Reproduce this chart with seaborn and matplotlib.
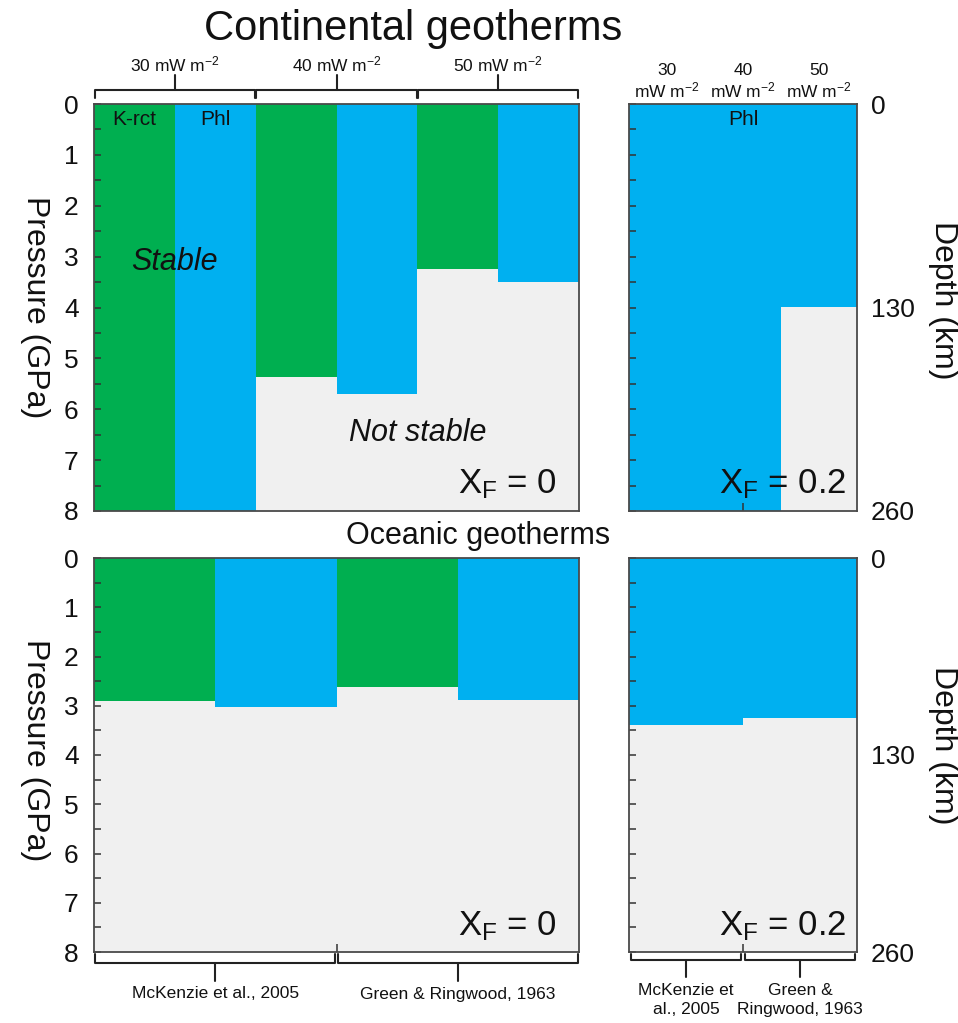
import numpy as np
import pandas as pd
import matplotlib
matplotlib.use("Agg")
import matplotlib.pyplot as plt
import matplotlib.transforms as mtransforms
import seaborn as sns

sns.set_theme(style="white")
plt.rcParams["font.family"] = ["Liberation Sans", "DejaVu Sans"]
plt.rcParams["mathtext.fontset"] = "custom"
plt.rcParams["mathtext.rm"] = "Liberation Sans"
plt.rcParams["mathtext.it"] = "Liberation Sans:italic"
plt.rcParams["mathtext.bf"] = "Liberation Sans:bold"

# ---------------- data (stability limit, GPa; columns stable from 0 down to limit) ----------------
cont_cats = ["30 K-rct", "30 Phl", "40 K-rct", "40 Phl", "50 K-rct", "50 Phl"]
cont_minerals = ["K-rct", "Phl", "K-rct", "Phl", "K-rct", "Phl"]
cont_xf0_limit = [8.5, 8.5, 5.36, 5.70, 3.24, 3.50]

cont_xf02_cats = ["30 mW", "40 mW", "50 mW"]
cont_xf02_minerals = ["Phl", "Phl", "Phl"]
cont_xf02_limit = [8.5, 8.5, 3.99]

ocean_cats = ["McK K-rct", "McK Phl", "G&R K-rct", "G&R Phl"]
ocean_minerals = ["K-rct", "Phl", "K-rct", "Phl"]
ocean_xf0_limit = [2.90, 3.02, 2.61, 2.88]

ocean_xf02_cats = ["McK", "G&R"]
ocean_xf02_minerals = ["Phl", "Phl"]
ocean_xf02_limit = [3.40, 3.24]

heatflow_labels = ["30 mW m$^{\\mathregular{-2}}$", "40 mW m$^{\\mathregular{-2}}$", "50 mW m$^{\\mathregular{-2}}$"]
heatflow_labels_2l = ["30\nmW m$^{\\mathregular{-2}}$", "40\nmW m$^{\\mathregular{-2}}$", "50\nmW m$^{\\mathregular{-2}}$"]
ref_labels = ["McKenzie et al., 2005", "Green & Ringwood, 1963"]
ref_labels_2l = ["McKenzie et\nal., 2005", "Green &\nRingwood, 1963"]
pressure_ticks = [0, 1, 2, 3, 4, 5, 6, 7, 8]
depth_ticks = [0, 130, 260]
P_MAX = 8.0
KM_PER_GPA = 260 / 8.0

GREEN = "#00AF50"
BLUE = "#00B0F0"
GREY = "#F0F0F0"
SPINE = "#4a4a4a"
palette = {"K-rct": GREEN, "Phl": BLUE}

W, H = 958, 1023
fig = plt.figure(figsize=(W / 100, H / 100), dpi=100)


def rect(x0, y0, x1, y1):
    return [x0 / W, 1 - y1 / H, (x1 - x0) / W, (y1 - y0) / H]


ax_tl = fig.add_axes(rect(94, 104, 579, 511))
ax_tr = fig.add_axes(rect(629, 104, 857, 511))
ax_bl = fig.add_axes(rect(94, 558, 579, 952))
ax_br = fig.add_axes(rect(629, 558, 857, 952))


def panel(ax, cats, limits, minerals, left_labels):
    df = pd.DataFrame({"cat": cats, "P": limits, "mineral": minerals})
    sns.barplot(data=df, x="cat", y="P", hue="mineral", palette=palette,
                width=1.0, saturation=1, dodge=False, legend=False,
                linewidth=0, ax=ax, zorder=1)
    ax.set_axisbelow(False)
    ax.set_facecolor(GREY)
    ax.set_xlim(-0.5, len(cats) - 0.5)
    ax.set_ylim(P_MAX, 0)
    ax.set_xlabel("")
    ax.set_ylabel("")
    ax.set_xticks([])
    ax.set_yticks(pressure_ticks)
    ax.set_yticks(np.arange(0.5, 8, 1.0), minor=True)
    ax.tick_params(axis="y", which="both", direction="in", length=5, width=1.1,
                   color="#333333", left=True, right=False, pad=11,
                   labelsize=19, labelleft=left_labels, labelcolor="#111111")
    for s in ax.spines.values():
        s.set_color(SPINE)
        s.set_linewidth(1.3)
        s.set_zorder(5)
    ax.grid(False)


panel(ax_tl, cont_cats, cont_xf0_limit, cont_minerals, True)
panel(ax_tr, cont_xf02_cats, cont_xf02_limit, cont_xf02_minerals, False)
panel(ax_bl, ocean_cats, ocean_xf0_limit, ocean_minerals, True)
panel(ax_br, ocean_xf02_cats, ocean_xf02_limit, ocean_xf02_minerals, False)

# small inside x ticks at bottom (as in reference)
ax_tr.set_xticks([1]); ax_tr.set_xticklabels([])
ax_bl.set_xticks([1.5]); ax_bl.set_xticklabels([])
ax_br.set_xticks([0.5]); ax_br.set_xticklabels([])
for a in (ax_tr, ax_bl, ax_br):
    a.tick_params(axis="x", direction="in", length=6, width=1.1, color="#333333", bottom=True)

# depth axes on the right panels
for a in (ax_tr, ax_br):
    a2 = a.twinx()
    a2.set_ylim(P_MAX * KM_PER_GPA, 0)
    a2.set_yticks(depth_ticks)
    a2.tick_params(axis="y", length=0, pad=10, labelsize=19, labelcolor="#111111")
    a2.grid(False)
    for s in a2.spines.values():
        s.set_visible(False)

# text inside panels
ax_tl.text(0, 0.31, "K-rct", ha="center", va="center", fontsize=15, color="#111111")
ax_tl.text(1, 0.31, "Phl", ha="center", va="center", fontsize=15, color="#111111")
ax_tr.text(1, 0.31, "Phl", ha="center", va="center", fontsize=15, color="#111111")
ax_tl.text(0.5, 3.1, "Stable", ha="center", va="center", fontsize=22, style="italic", color="#111111")
ax_tl.text(3.5, 6.46, "Not stable", ha="center", va="center", fontsize=22, style="italic", color="#111111")
for a, t in ((ax_tl, "X$_{\\mathregular{F}}$ = 0"), (ax_tr, "X$_{\\mathregular{F}}$ = 0.2"),
             (ax_bl, "X$_{\\mathregular{F}}$ = 0"), (ax_br, "X$_{\\mathregular{F}}$ = 0.2")):
    a.text(0.955, 0.065, t, transform=a.transAxes, ha="right", va="center", fontsize=25, color="#111111")


# brackets
def bracket(ax, x0, x1, y_line, y_end, y_tip):
    tr = mtransforms.blended_transform_factory(ax.transData, ax.transAxes)
    xm = (x0 + x1) / 2
    ax.plot([x0, x0, x1, x1], [y_end, y_line, y_line, y_end], color="#222222", lw=1.5,
            transform=tr, clip_on=False, solid_joinstyle="round")
    ax.plot([xm, xm], [y_line, y_tip], color="#222222", lw=1.5, transform=tr, clip_on=False)


h_tl = 407.0
for i, lab in enumerate(heatflow_labels):
    x0, x1 = 2 * i - 0.5 + 0.01, 2 * i + 1.5 - 0.01
    bracket(ax_tl, x0, x1, 1 + 14 / h_tl, 1 + 6 / h_tl, 1 + 29 / h_tl)
    ax_tl.text((x0 + x1) / 2, 1 + 40 / h_tl, lab, ha="center", va="center", fontsize=12.5,
               transform=mtransforms.blended_transform_factory(ax_tl.transData, ax_tl.transAxes),
               color="#111111")
for i, lab in enumerate(heatflow_labels_2l):
    ax_tr.text(i, 1 + 22 / h_tl, lab, ha="center", va="center", fontsize=12.5, linespacing=1.15,
               transform=mtransforms.blended_transform_factory(ax_tr.transData, ax_tr.transAxes),
               color="#111111")

h_b = 394.0
for i, lab in enumerate(ref_labels):
    x0, x1 = 2 * i - 0.5 + 0.01, 2 * i + 1.5 - 0.01
    bracket(ax_bl, x0, x1, -11 / h_b, -2 / h_b, -29 / h_b)
    ax_bl.text((x0 + x1) / 2, -42 / h_b, lab, ha="center", va="center", fontsize=12.5,
               transform=mtransforms.blended_transform_factory(ax_bl.transData, ax_bl.transAxes),
               color="#111111")
for i, lab in enumerate(ref_labels_2l):
    x0, x1 = i - 0.5 + 0.02, i + 0.5 - 0.02
    bracket(ax_br, x0, x1, -8 / h_b, -2 / h_b, -25 / h_b)
    ax_br.text(i, -31 / h_b, lab, ha="center", va="top", fontsize=12.5, linespacing=1.3,
               transform=mtransforms.blended_transform_factory(ax_br.transData, ax_br.transAxes),
               color="#111111")

# titles and axis labels
fig.text(413 / W, 1 - 29 / H, "Continental geotherms", ha="center", va="center", fontsize=30, color="#111111")
fig.text(478 / W, 1 - 536 / H, "Oceanic geotherms", ha="center", va="center", fontsize=22, color="#111111")
for yc in (307, 750):
    fig.text(35 / W, 1 - yc / H, "Pressure (GPa)", ha="center", va="center", rotation=270, fontsize=23, color="#111111")
for yc in (300, 745):
    fig.text(943 / W, 1 - yc / H, "Depth (km)", ha="center", va="center", rotation=270, fontsize=23, color="#111111")

fig.savefig("out.png", dpi=100, facecolor="white")
